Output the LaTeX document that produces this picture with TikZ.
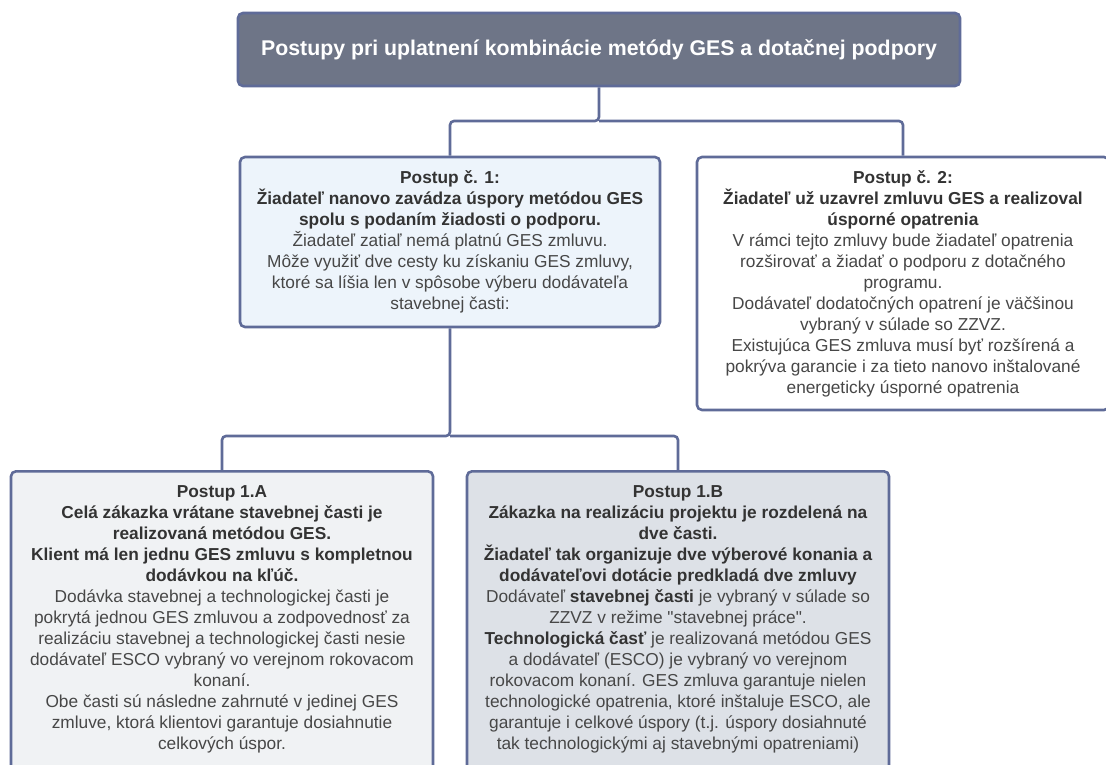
\documentclass[tikz,border=0pt]{standalone}
\usepackage{fontspec}
\setmainfont{Liberation Sans}[Ligatures=TeXOff]
\definecolor{bordercol}{HTML}{5F6B98}
\definecolor{titlefill}{HTML}{6E7587}
\definecolor{fillone}{HTML}{EDF4FB}
\definecolor{filltwo}{HTML}{FFFFFF}
\definecolor{fillA}{HTML}{F0F2F4}
\definecolor{fillB}{HTML}{DDE1E7}
\definecolor{textcol}{HTML}{474747}
\definecolor{boldcol}{HTML}{333333}
\newcommand{\bld}[1]{\textcolor{boldcol}{\textbf{#1}}}
\begin{document}
\begin{tikzpicture}[x=1pt,y=-1pt,
  box/.style={draw=bordercol, line width=2.6pt, rounded corners=5pt, inner sep=0pt},
  conn/.style={draw=bordercol, line width=2.6pt, rounded corners=4pt},
  txt/.style={align=center, text=textcol, font=\fontsize{17.3}{21}\selectfont, inner sep=0pt},
]
\useasboundingbox (0,0) rectangle (1106,765);
\fill[white] (0,0) rectangle (1106,765);

\node[box, fill=titlefill, minimum width=722pt, minimum height=73pt, text=white,
  font=\bfseries\fontsize{21.3}{25}\selectfont] (title) at (599,49.5)
  {Postupy pri uplatnení kombinácie metódy GES a dotačnej podpory};

\node[box, txt, fill=fillone, minimum width=420pt, minimum height=170pt] (p1) at (450,242)
  {\bld{Postup č. 1:}\\
   \bld{Žiadateľ nanovo zavádza úspory metódou GES}\\
   \bld{spolu s podaním žiadosti o podporu.}\\
   Žiadateľ zatiaľ nemá platnú GES zmluvu.\\
   Môže využiť dve cesty ku získaniu GES zmluvy,\\
   ktoré sa líšia len v spôsobe výberu dodávateľa\\
   stavebnej časti:};

\node[box, txt, fill=filltwo, minimum width=412pt, minimum height=253pt] (p2) at (903,283.5)
  {\bld{Postup č. 2:}\\
   \bld{Žiadateľ už uzavrel zmluvu GES a realizoval}\\
   \bld{úsporné opatrenia}\\
   V rámci tejto zmluvy bude žiadateľ opatrenia\\
   rozširovať a žiadať o podporu z dotačného\\
   programu.\\
   Dodávateľ dodatočných opatrení je väčšinou\\
   vybraný v súlade so ZZVZ.\\
   Existujúca GES zmluva musí byť rozšírená a\\
   pokrýva garancie i za tieto nanovo inštalované\\
   energeticky úsporné opatrenia};

\node[box, fill=fillA, minimum width=422pt, minimum height=330pt, anchor=north] (p1a) at (222,470) {};
\node[txt, anchor=north] (p1atext) at ([yshift=-15pt]p1a.north)
  {\bld{Postup 1.A}\\
   \bld{Celá zákazka vrátane stavebnej časti je}\\
   \bld{realizovaná metódou GES.}\\
   \bld{Klient má len jednu GES zmluvu s kompletnou}\\
   \bld{dodávkou na kľúč.}\\
   Dodávka stavebnej a technologickej časti je\\
   pokrytá jednou GES zmluvou a zodpovednosť za\\
   realizáciu stavebnej a technologickej časti nesie\\
   dodávateľ ESCO vybraný vo verejnom rokovacom\\
   konaní.\\
   Obe časti sú následne zahrnuté v jedinej GES\\
   zmluve, ktorá klientovi garantuje dosiahnutie\\
   celkových úspor.};

\node[box, fill=fillB, minimum width=422pt, minimum height=330pt, anchor=north] (p1b) at (678,470) {};
\node[txt, anchor=north] (p1btext) at ([yshift=-15pt]p1b.north)
  {\bld{Postup 1.B}\\
   \bld{Zákazka na realizáciu projektu je rozdelená na}\\
   \bld{dve časti.}\\
   \bld{Žiadateľ tak organizuje dve výberové konania a}\\
   \bld{dodávateľovi dotácie predkladá dve zmluvy}\\
   Dodávateľ \bld{stavebnej časti} je vybraný v súlade so\\
   ZZVZ v režime "stavebnej práce".\\
   \bld{Technologická časť} je realizovaná metódou GES\\
   a dodávateľ (ESCO) je vybraný vo verejnom\\
   rokovacom konaní. GES zmluva garantuje nielen\\
   technologické opatrenia, ktoré inštaluje ESCO, ale\\
   garantuje i celkové úspory (t.j. úspory dosiahnuté\\
   tak technologickými aj stavebnými opatreniami)};

\coordinate (j1) at (599,121);
\coordinate (j2) at (450,436);
\draw[conn] (title.south) -- (title.south |- j1) -| (p1.north);
\draw[conn] (title.south |- j1) -| (p2.north);
\draw[conn] (p1.south) -- (p1.south |- j2) -| (p1a.north);
\draw[conn] (p1.south |- j2) -| (p1b.north);
\end{tikzpicture}
\end{document}
